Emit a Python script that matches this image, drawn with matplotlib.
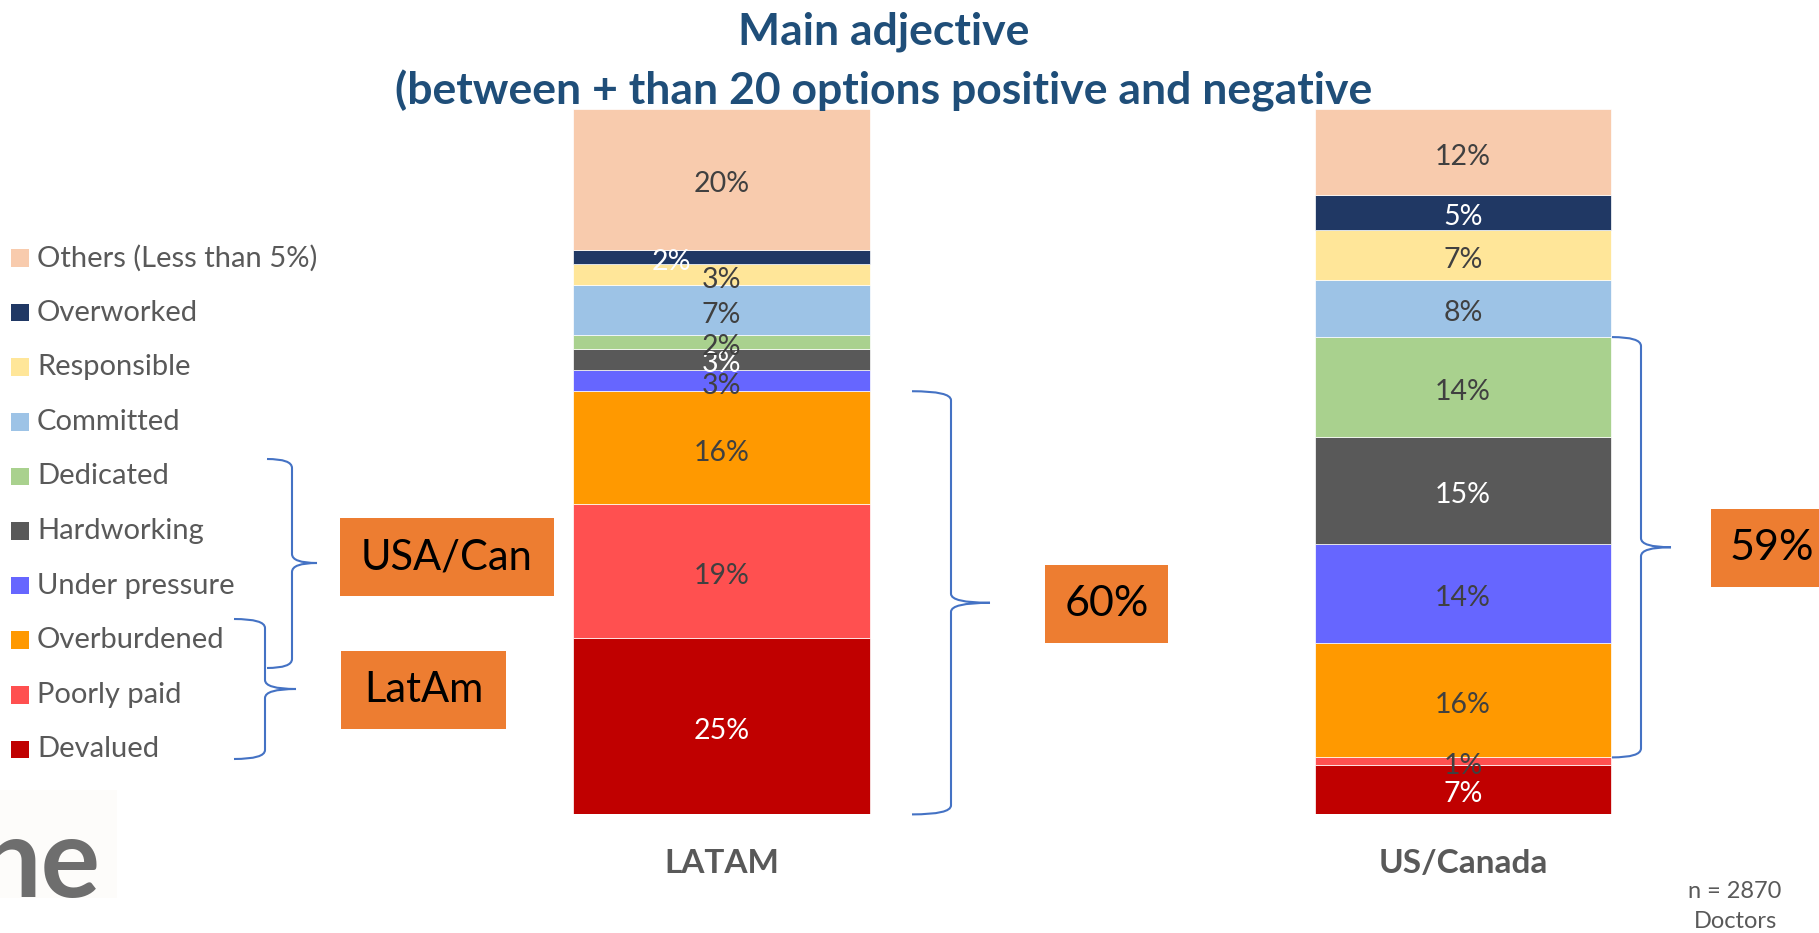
import numpy as np
import matplotlib
matplotlib.use("Agg")
import matplotlib.pyplot as plt
from matplotlib.patches import Rectangle, PathPatch
from matplotlib.path import Path

plt.rcParams["font.family"] = ["Lato", "DejaVu Sans"]

# ---------------- data ----------------
categories = ["Devalued", "Poorly paid", "Overburdened", "Under pressure",
              "Hardworking", "Dedicated", "Committed", "Responsible",
              "Overworked", "Others (Less than 5%)"]
regions = ["LATAM", "US/Canada"]
latam = [25, 19, 16, 3, 3, 2, 7, 3, 2, 20]
us_canada = [7, 1, 16, 14, 15, 14, 8, 7, 5, 12]

colors = ["#C00000", "#FF5050", "#FF9900", "#6666FF", "#595959",
          "#A9D18E", "#9DC3E6", "#FFE699", "#203864", "#F8CBAD"]
white_text = {"Devalued", "Hardworking", "Overworked"}

W, H = 1819, 933
GRAY = "#595959"
ORANGE = "#ED7D31"
BLUE = "#4472C4"


def fx(x):
    return x / W


def fy(y):
    return 1 - y / H


fig = plt.figure(figsize=(W / 100, H / 100), dpi=100)

# ---------------- stacked bars ----------------
ax = fig.add_axes([fx(350.75), fy(814.4), 1483 / W, (814.4 - 109.1) / H])

x = np.arange(len(regions))
values = np.array([latam, us_canada], dtype=float)
shares = values / values.sum(axis=1, keepdims=True) * 100
bottoms = np.zeros(len(regions))
tops = {}
for i, cat in enumerate(categories):
    ax.bar(x, shares[:, i], 0.4, bottom=bottoms, color=colors[i],
           edgecolor="white", linewidth=0.5)
    for j in range(len(regions)):
        xo = x[j]
        if j == 0 and cat == "Overworked":
            xo -= 0.067
        ax.annotate(f"{values[j, i]:.0f}%",
                    (xo, bottoms[j] + shares[j, i] / 2),
                    xytext=(0, -3.5), textcoords="offset points",
                    ha="center", va="center", fontsize=20.5,
                    color="white" if cat in white_text else "#404040")
    bottoms = bottoms + shares[:, i]
    tops[cat] = bottoms.copy()

ax.set_xlim(-0.5, 1.5)
ax.set_ylim(0, 100)
ax.set_xticks(x)
ax.set_xticklabels(regions, fontsize=24, fontweight="bold", color=GRAY)
ax.tick_params(axis="x", length=0, pad=25)
ax.set_yticks([])
for s in ax.spines.values():
    s.set_visible(False)

# ---------------- title ----------------
fig.text(fx(884), fy(32), "Main adjective", ha="center", va="center",
         fontsize=32, fontweight="bold", color="#1F4E79")
fig.text(fx(884), fy(91), "(between + than 20 options positive and negative",
         ha="center", va="center", fontsize=32, fontweight="bold", color="#1F4E79")

# ---------------- legend ----------------
leg_y0, leg_step = 258, 54.6
for k, cat in enumerate(categories[::-1]):
    yc = leg_y0 + k * leg_step
    fig.add_artist(Rectangle((fx(11.1), fy(yc + 8.8)), 17.6 / W, 17.6 / H,
                             transform=fig.transFigure,
                             color=colors[::-1][k], lw=0))
    fig.text(fx(37), fy(yc), cat, ha="left", va="center",
             fontsize=21, color=GRAY)


# ---------------- braces ----------------
def brace(x0, xv, xt, ytop, ymid, ybot, r=9):
    verts = [(x0, ytop), (xv, ytop), (xv, ytop + r),
             (xv, ymid - r), (xv, ymid), (xt, ymid),
             (xv, ymid), (xv, ymid + r),
             (xv, ybot - r), (xv, ybot), (x0, ybot)]
    codes = [Path.MOVETO, Path.CURVE3, Path.CURVE3,
             Path.LINETO, Path.CURVE3, Path.CURVE3,
             Path.CURVE3, Path.CURVE3,
             Path.LINETO, Path.CURVE3, Path.CURVE3]
    verts = [(fx(a), fy(b)) for a, b in verts]
    fig.add_artist(PathPatch(Path(verts, codes), transform=fig.transFigure,
                             fill=False, edgecolor=BLUE, lw=1.5))


def ypix(xd, yd):
    return H - ax.transData.transform((xd, yd))[1]


# legend group braces
brace(267, 292, 317, 459, 563, 668)
brace(234, 265, 296, 619, 689, 759)

# bar braces (bottom 60% LATAM, 59% US/Canada)
lt = ypix(0, tops["Overburdened"][0])
lb = ypix(0, 0)
brace(912, 951, 990, lt, (lt + lb) / 2, lb)
ut = ypix(1, tops["Dedicated"][1])
ub = ypix(1, tops["Poorly paid"][1])
brace(1612, 1641, 1671, ut, (ut + ub) / 2, ub)


# ---------------- orange boxes ----------------
def box(x0, y0, x1, y1, label, size, xc=None):
    fig.add_artist(Rectangle((fx(x0), fy(y1)), (x1 - x0) / W, (y1 - y0) / H,
                             transform=fig.transFigure, color=ORANGE, lw=0))
    if xc is None:
        xc = (x0 + x1) / 2
    fig.text(fx(xc), fy((y0 + y1) / 2), label, ha="center", va="center",
             fontsize=size, color="black")


box(340, 518, 554, 596, "USA/Can", 30)
box(341, 651, 506, 729, "LatAm", 30)
box(1045, 565, 1168, 643, "60%", 31)
box(1711, 509, 1834, 587, "59%", 31, xc=1772)

# ---------------- logo fragment & note ----------------
fig.add_artist(Rectangle((0, fy(898)), 117 / W, 108 / H,
                         transform=fig.transFigure, color="#FDFCFA", lw=0))
fig.text(fx(100), fy(897), "ne", ha="right", va="baseline",
         fontsize=80, fontweight="bold", color="#6E6E6E")

fig.text(fx(1735), fy(892), "n = 2870", ha="center", va="center",
         fontsize=17, color=GRAY)
fig.text(fx(1735), fy(922), "Doctors", ha="center", va="center",
         fontsize=17, color=GRAY)

fig.savefig("out.png", dpi=100)
